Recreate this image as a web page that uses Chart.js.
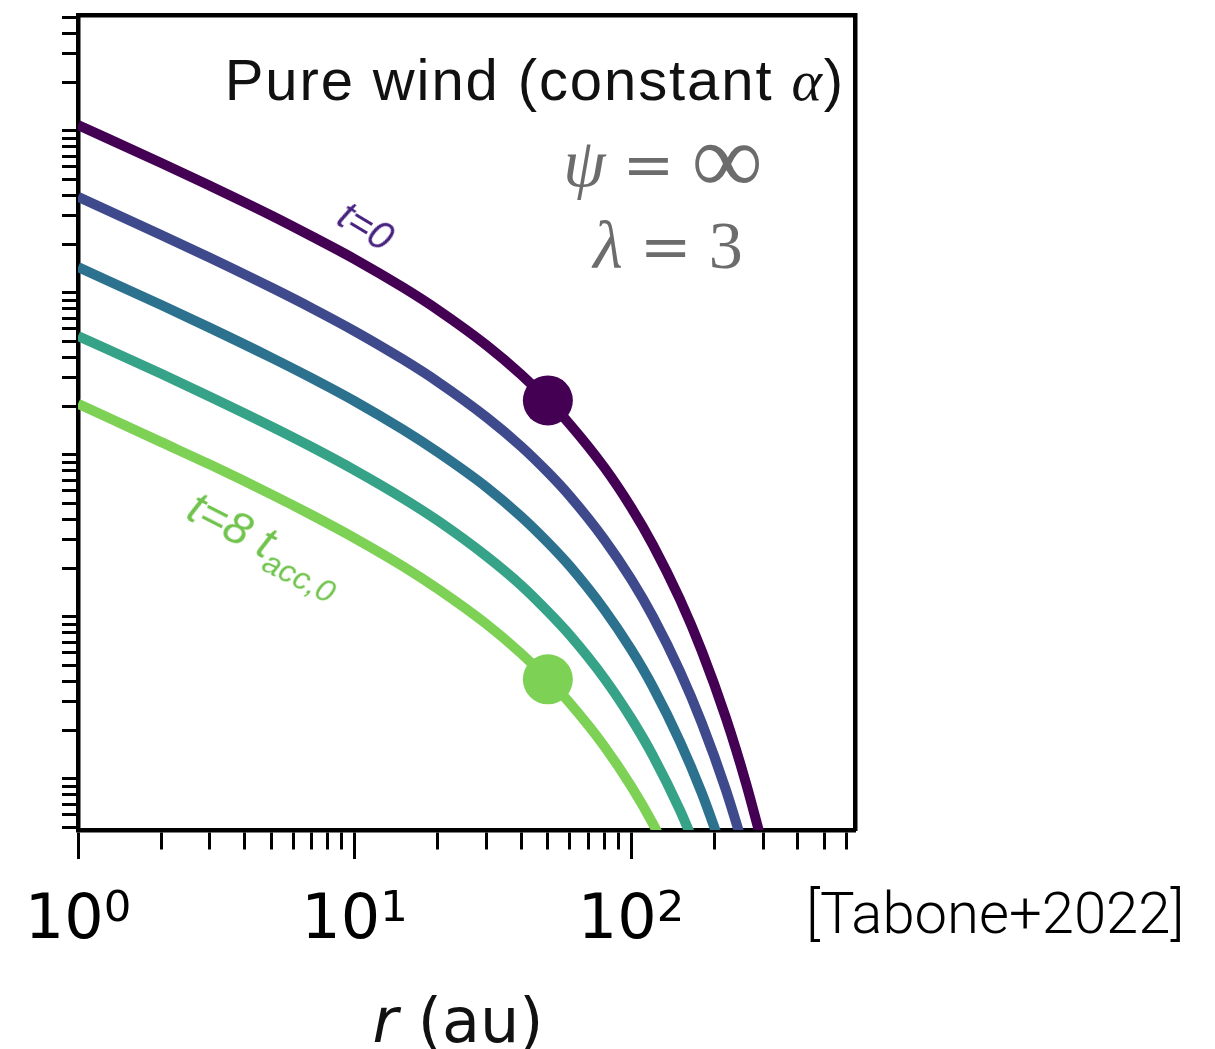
<!DOCTYPE html>
<html lang="en">
<head>
    <meta charset="UTF-8">
    <title>Pure wind (constant alpha) - surface density profiles</title>
    <script src="https://cdn.jsdelivr.net/npm/chart.js"></script>
    <style>
        body {
            margin: 0;
            background: #ffffff;
        }
        .wrap {
            position: relative;
            width: 1215px;
            height: 1049px;
            overflow: hidden;
        }
        .note {
            position: absolute;
            white-space: nowrap;
            line-height: 1;
        }
        .panel-title {
            top: 51px;
            right: 370px;
            font-family: "Liberation Sans", Arial, sans-serif;
            font-size: 58px;
            letter-spacing: 1.9px;
            color: #111;
        }
        .panel-title .math {
            font-family: "Liberation Serif", serif;
            font-style: italic;
        }
        .param {
            font-family: "Liberation Serif", serif;
            font-size: 68px;
            color: #6c6c6c;
            width: 300px;
            text-align: center;
        }
        .param i { font-style: italic; }
        .param .op {
            font-family: "DejaVu Serif", serif;
            font-size: 62px;
        }
        .param .inf {
            font-family: "Liberation Serif", serif;
            font-size: 100px;
            line-height: 0;
            vertical-align: -0.07em;
        }
        .curve-label {
            font-family: "Liberation Sans", Arial, sans-serif;
            font-style: italic;
            transform-origin: center center;
        }
        .curve-label sub {
            font-size: 0.7em;
            vertical-align: -0.35em;
            line-height: 0;
        }
        .tick-label {
            font-family: "DejaVu Sans", sans-serif;
            font-size: 62px;
            color: #000;
            transform: translateX(-50%);
            top: 886px;
        }
        .tick-label sup {
            font-size: 0.7em;
            vertical-align: 0.4em;
            line-height: 0;
        }
        .axis-title {
            font-family: "DejaVu Sans", sans-serif;
            font-size: 62px;
            color: #111;
            width: 400px;
            text-align: center;
        }
        .cite {
            font-family: Roboto, "Liberation Sans", sans-serif;
            font-weight: 300;
            font-size: 58px;
            color: #000;
        }
    </style>
</head>
<body>
<div class="wrap" id="wrap">
    <canvas id="profiles" width="1215" height="1049"></canvas>

    <div class="note panel-title">Pure wind (constant <span class="math">α</span>)</div>
    <div class="note param" style="left:513px; top:129px;"><i>ψ</i> <span class="op">=</span> <span class="inf">∞</span></div>
    <div class="note param" style="left:518px; top:211px;"><i>λ</i> <span class="op">=</span> 3</div>

    <div class="note curve-label" style="left:366px; top:226px; font-size:40px; color:#47237f; transform:translate(-50%,-50%) rotate(31deg);">t=0</div>
    <div class="note curve-label" style="left:266px; top:542px; font-size:46px; color:#70c34c; transform:translate(-50%,-50%) rotate(27deg);">t=8 t<sub>acc,0</sub></div>

    <div class="note axis-title" style="left:258px; top:990px;"><i>r</i> (au)</div>
    <div class="note cite" style="left:806px; top:884px;">[Tabone+2022]</div>
</div>

<script>
    // radius samples (au) shared by all profiles
    const radii = [1, 2, 3, 5, 7, 10, 15, 20, 30, 40, 50, 60, 80, 100, 120, 150, 180, 220, 260, 300];

    // surface density profiles, t = 0 ... 8 t_acc,0 (null once the curve has left the axes)
    const sigmaT0 = [1089, 635, 459, 301, 224, 162, 108, 78.7, 47.6, 31.4, 21.7, 15.5, 8.38, 4.75, 2.78, 1.29, 0.618, 0.239, 0.0947, 0.0382];
    const sigmaT2 = [392, 228, 165, 108, 80.7, 58.2, 38.8, 28.3, 17.1, 11.3, 7.81, 5.58, 3.01, 1.71, 1.00, 0.464, 0.222, 0.086, 0.0341, null];
    const sigmaT4 = [144.5, 84.2, 60.9, 39.9, 29.8, 21.5, 14.3, 10.4, 6.32, 4.17, 2.88, 2.06, 1.11, 0.630, 0.369, 0.171, 0.082, 0.0317, null, null];
    const sigmaT6 = [54.3, 31.7, 22.9, 15.0, 11.2, 8.07, 5.39, 3.93, 2.37, 1.57, 1.08, 0.773, 0.418, 0.237, 0.139, 0.0644, 0.0308, null, null, null];
    const sigmaT8 = [20.7, 12.0, 8.72, 5.71, 4.26, 3.07, 2.05, 1.49, 0.903, 0.596, 0.412, 0.294, 0.159, 0.0902, 0.0528, 0.0245, null, null, null, null];

    // big dots on the first and last profile
    const markerRadius = 50;
    const markerSigma = [21.7, 0.412];

    // axis ticks
    const xTickValues = [1, 2, 3, 4, 5, 6, 7, 8, 9, 10, 20, 30, 40, 50, 60, 70, 80, 90, 100, 200, 300, 400, 500, 600];
    const xMajorValues = [1, 10, 100];
    const xMajorExponents = [0, 1, 2];
    const yTickValues = [0.05, 0.06, 0.07, 0.08, 0.09,
        0.1, 0.2, 0.3, 0.4, 0.5, 0.6, 0.7, 0.8, 0.9,
        1, 2, 3, 4, 5, 6, 7, 8, 9,
        10, 20, 30, 40, 50, 60, 70, 80, 90,
        100, 200, 300, 400, 500, 600, 700, 800, 900,
        1000, 2000, 3000, 4000, 5000];

    const lineColors = ['#440154', '#3f4a8c', '#2c718e', '#36a388', '#7dd155'];

    const profiles = [sigmaT0, sigmaT2, sigmaT4, sigmaT6, sigmaT8];

    function toPoints(values) {
        return radii.map((r, i) => ({ x: r, y: values[i] }));
    }

    const lineSets = profiles.map((values, k) => ({
        data: toPoints(values),
        borderColor: lineColors[k],
        borderWidth: 10,
        pointRadius: 0,
        cubicInterpolationMode: 'monotone',
        spanGaps: false,
        clip: 0,
        order: 1
    }));

    const markerSets = [0, 4].map((k, j) => ({
        data: [{ x: markerRadius, y: markerSigma[j] }],
        showLine: false,
        pointRadius: 25,
        pointBackgroundColor: lineColors[k],
        pointBorderWidth: 0,
        order: 0
    }));

    Chart.defaults.font.family = 'DejaVu Sans';
    Chart.defaults.color = '#000';

    const chart = new Chart(document.getElementById('profiles'), {
        type: 'line',
        data: { datasets: markerSets.concat(lineSets) },
        options: {
            responsive: false,
            animation: false,
            devicePixelRatio: 1,
            layout: { autoPadding: false, padding: { left: 62, right: 360, top: 15, bottom: 0 } },
            plugins: {
                legend: { display: false },
                tooltip: { enabled: false }
            },
            scales: {
                x: {
                    type: 'logarithmic',
                    position: 'bottom',
                    min: 1,
                    max: 645,
                    afterBuildTicks: (scale) => {
                        scale.ticks = xTickValues.map(v => ({ value: v, major: xMajorValues.includes(v) }));
                    },
                    afterFit: (scale) => { scale.height = 219; },
                    border: { display: true, color: '#000', width: 4.5 },
                    grid: {
                        drawOnChartArea: false,
                        drawTicks: true,
                        tickLength: 29,
                        tickWidth: 3,
                        tickColor: '#000',
                        tickBorderDash: (ctx) => (ctx.tick && xMajorValues.includes(ctx.tick.value)) ? [] : [17, 200]
                    },
                    ticks: { display: false, autoSkip: false }
                },
                y: {
                    type: 'logarithmic',
                    position: 'left',
                    min: 0.0484,
                    max: 5200,
                    afterBuildTicks: (scale) => {
                        scale.ticks = yTickValues.map(v => ({ value: v }));
                    },
                    afterFit: (scale) => { scale.width = 16; },
                    border: { display: true, color: '#000', width: 4.5 },
                    grid: {
                        drawOnChartArea: false,
                        drawTicks: true,
                        tickLength: 16,
                        tickWidth: 3,
                        tickColor: '#000'
                    },
                    ticks: { display: false, autoSkip: false }
                },
                xTop: {
                    type: 'linear',
                    position: 'top',
                    afterFit: (scale) => { scale.height = 0; },
                    border: { display: true, color: '#000', width: 4.5 },
                    grid: { display: false, drawTicks: false },
                    ticks: { display: false }
                },
                yRight: {
                    type: 'linear',
                    position: 'right',
                    afterFit: (scale) => { scale.width = 0; },
                    border: { display: true, color: '#000', width: 4.5 },
                    grid: { display: false, drawTicks: false },
                    ticks: { display: false }
                }
            }
        }
    });

    // decade labels with real superscripts, placed at the x scale's own tick positions
    const wrap = document.getElementById('wrap');
    xMajorValues.forEach((v, i) => {
        const label = document.createElement('div');
        label.className = 'note tick-label';
        label.innerHTML = '10<sup>' + xMajorExponents[i] + '</sup>';
        label.style.left = chart.scales.x.getPixelForValue(v) + 'px';
        wrap.appendChild(label);
    });
</script>
</body>
</html>
